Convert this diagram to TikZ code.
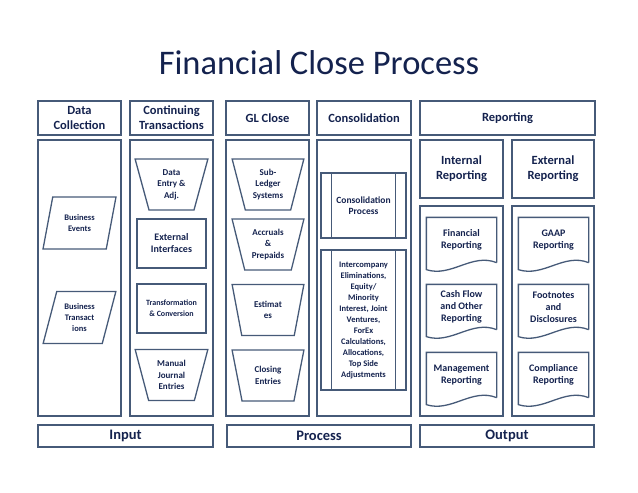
\documentclass[tikz,border=0pt]{standalone}
\usepackage{fontspec}
\setmainfont{Carlito}
\usetikzlibrary{positioning,shapes.geometric}
\definecolor{fcline}{RGB}{70,90,120}
\definecolor{fctext}{RGB}{20,34,78}

\begin{document}
\begin{tikzpicture}[x=1pt,y=-1pt,
  box/.style={draw=fcline, line width=1.5pt, inner sep=0pt, align=center,
              text=fctext, font=\bfseries\fontsize{12.5}{15}\selectfont},
  col/.style={box, minimum height=276pt},
  bar/.style={box, minimum height=22pt, font=\bfseries\fontsize{14.5}{16}\selectfont},
  item/.style={draw=fcline, line width=1.3pt, inner sep=0pt, align=center,
               text=fctext, font=\bfseries\fontsize{9}{11.5}\selectfont},
  trap/.style={item, trapezium, shape border rotate=180, trapezium stretches=true,
               trapezium left angle=74, trapezium right angle=74,
               minimum width=73pt, minimum height=51pt},
  para/.style={item, trapezium, trapezium stretches=true,
                trapezium left angle=72, trapezium right angle=108,
                minimum width=73pt, minimum height=52pt, font=\bfseries\fontsize{8.5}{11}\selectfont},
  rect/.style={item, minimum width=69pt, minimum height=49pt, font=\bfseries\fontsize{10}{12}\selectfont},
  proc/.style={item, minimum width=85pt, font=\bfseries\fontsize{8.5}{11}\selectfont},
  doc/.style={item, draw=none, minimum width=69pt, minimum height=44pt, font=\bfseries\fontsize{10}{11.8}\selectfont},
  frame/.style={draw=fcline, line width=1.3pt}
]
  \useasboundingbox (0,0) rectangle (638,493);

  % title
  \node[text=fctext, font=\fontsize{34.5}{38}\selectfont] (title) at (319,63) {Financial Close Process};

  % header row
  \node[box, minimum width=83pt, minimum height=34pt] (hdcoll) at (79.5,118) {Data\\Collection};
  \node[box, minimum width=83pt, minimum height=34pt] (hdcont) at (171.5,118) {Continuing\\Transactions};
  \node[box, minimum width=83pt, minimum height=34pt] (hdgl) at (267.5,118) {GL Close};
  \node[box, minimum width=94pt, minimum height=34pt] (hdcons) at (364,118) {Consolidation};
  \node[box, minimum width=175pt, minimum height=34pt] (hdrep) at (507.5,118) {Reporting};

  % columns
  \node[col, minimum width=83pt] (colcoll) at (79.5,278) {};
  \node[col, minimum width=83pt] (colcont) at (171.5,278) {};
  \node[col, minimum width=83pt] (colgl) at (267.5,278) {};
  \node[col, minimum width=94pt] (colcons) at (364,278) {};
  \node[box, minimum width=83pt, minimum height=58pt] (hdint) at (461.5,169) {Internal\\Reporting};
  \node[box, minimum width=82pt, minimum height=58pt] (hdext) at (553,169) {External\\Reporting};
  \node[box, minimum width=83pt, minimum height=210pt] (colint) at (461.5,311) {};
  \node[box, minimum width=82pt, minimum height=210pt] (colext) at (553,311) {};

  % data collection
  \node[para] (events) at (79.5,223) {Business\\Events};
  \node[para] (transact) at (79.5,317.5) {Business\\Transact\\ions};

  % continuing transactions
  \node[trap] (entry) at (171.5,184.5) {Data\\Entry \&\\Adj.};
  \node[rect] (extif) at (171.5,243.5) {External\\Interfaces};
  \node[rect, font=\bfseries\fontsize{8}{11}\selectfont] (transf) at (171.5,308.5) {Transformation\\\& Conversion};
  \node[trap] (manual) at (171.5,375) {Manual\\Journal\\Entries};

  % gl close
  \node[trap, minimum width=72pt] (subledger) at (268,184.5) {Sub-\\Ledger\\Systems};
  \node[trap, minimum width=72pt] (accruals) at (268,244.5) {Accruals\\\&\\Prepaids};
  \node[trap, minimum width=72pt] (estimates) at (268,310) {Estimat\\es};
  \node[trap, minimum width=72pt] (closing) at (268,375.5) {Closing\\Entries};

  % consolidation
  \node[proc, minimum height=65pt, font=\bfseries\fontsize{9.5}{11.5}\selectfont] (consproc) at (363.5,205.5) {Consolidation\\Process};
  \node[proc, minimum height=140pt] (elim) at (363.5,320) {Intercompany\\Eliminations,\\Equity/\\Minority\\Interest, Joint\\Ventures,\\ForEx\\Calculations,\\Allocations,\\Top Side\\Adjustments};
  \foreach \n in {consproc,elim} {
    \draw[frame] ([xshift=11pt]\n.north west) -- ([xshift=11pt]\n.south west);
    \draw[frame] ([xshift=-11pt]\n.north east) -- ([xshift=-11pt]\n.south east);
  }

  % reporting documents
  \node[doc] (finrep) at (461.5,240) {Financial\\Reporting};
  \node[doc] (cashflow) at (461.5,307) {Cash Flow\\and Other\\Reporting};
  \node[doc] (mgmtrep) at (461.5,375) {Management\\Reporting};
  \node[doc] (gaap) at (553.5,240) {GAAP\\Reporting};
  \node[doc] (footnotes) at (553.5,307) {Footnotes\\and\\Disclosures};
  \node[doc] (compliance) at (553.5,375) {Compliance\\Reporting};
  \foreach \n in {finrep,cashflow,mgmtrep,gaap,footnotes,compliance}
    \draw[frame] (\n.south east) -- (\n.north east) -- (\n.north west) -- ([yshift=-7pt]\n.south west)
      .. controls ([xshift=25pt,yshift=-15pt]\n.south west) and ([xshift=-25pt,yshift=10pt]\n.south east) .. (\n.south east);

  % bottom bar
  \node[bar, minimum width=175pt] (input) at (125.5,436) {Input};
  \node[bar, minimum width=184pt] (process) at (319,436) {Process};
  \node[bar, minimum width=174pt] (output) at (507,436) {Output};
\end{tikzpicture}
\end{document}
